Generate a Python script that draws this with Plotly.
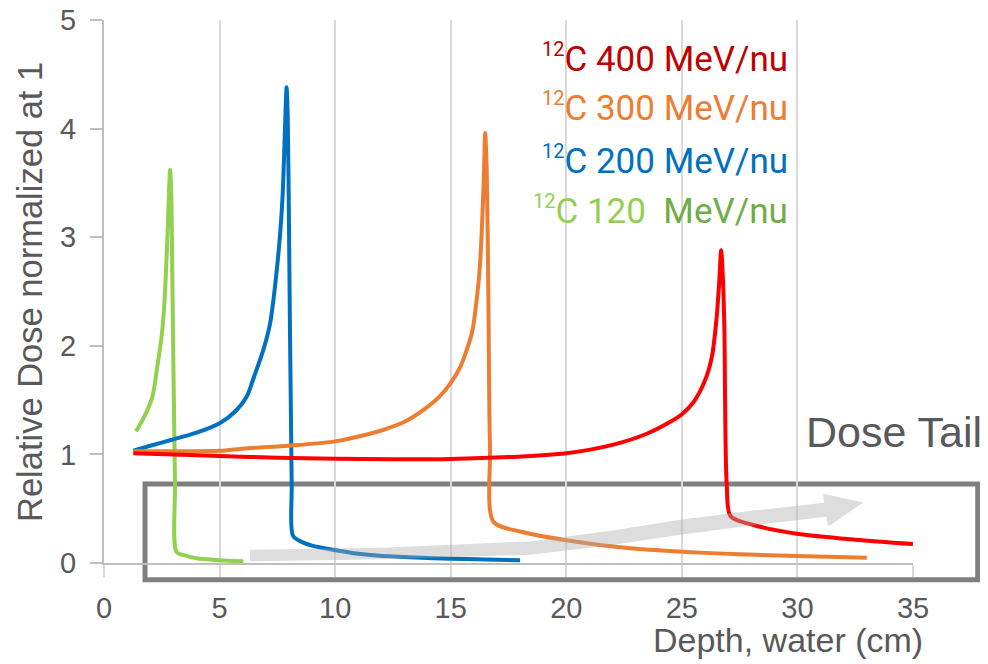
import plotly.graph_objects as go

# ---------------- data ----------------
x_120 = [1.38, 1.75, 2.09, 2.30, 2.49, 2.60, 2.66, 2.75, 2.81, 2.86, 2.91, 2.96, 3.07, 3.14, 3.5, 4.0, 5.0, 6.03]
y_120 = [1.21, 1.35, 1.53, 1.80, 2.08, 2.35, 2.58, 3.04, 3.40, 3.62, 3.40, 2.58, 0.74, 0.10, 0.07, 0.043, 0.025, 0.015]

x_200 = [1.27, 2.0, 2.86, 4.0, 5.02, 5.7, 6.17, 6.5, 6.89, 7.18, 7.40, 7.60, 7.72, 7.80, 7.86, 7.90, 7.95, 7.99, 8.12, 8.18,
         8.6, 9.0, 9.97, 11.0, 11.94, 13.5, 14.97, 16.5, 18.0]
y_200 = [1.035, 1.08, 1.13, 1.20, 1.29, 1.40, 1.53, 1.72, 1.96, 2.20, 2.55, 2.98, 3.35, 3.80, 4.20, 4.38, 4.10, 3.40, 0.73, 0.25,
         0.19, 0.16, 0.12, 0.085, 0.066, 0.05, 0.04, 0.032, 0.025]

x_300 = [1.27, 3.0, 5.0, 6.32, 8.0, 10.0, 11.5, 12.0, 13.0, 13.82, 14.5, 14.97, 15.4, 15.69, 15.95, 16.12, 16.25, 16.34,
         16.44, 16.49, 16.56, 16.63, 16.70, 16.85, 18.0, 19.99, 22.76, 24.99, 27.5, 29.97, 33.0]
y_300 = [1.03, 1.03, 1.033, 1.058, 1.08, 1.12, 1.19, 1.22, 1.30, 1.41, 1.53, 1.65, 1.80, 1.96, 2.15, 2.42, 2.70, 3.04,
         3.60, 3.96, 3.60, 2.42, 1.07, 0.38, 0.29, 0.21, 0.135, 0.104, 0.08, 0.064, 0.049]

x_400 = [1.27, 3.0, 5.0, 7.5, 10.0, 12.5, 15.0, 17.5, 20.0, 22.04, 23.48, 24.5, 25.0, 25.5, 26.0, 26.3, 26.5, 26.62, 26.70,
         26.78, 26.84, 26.94, 27.11, 28.1, 29.97, 32.5, 35.0]
y_400 = [1.01, 1.0, 0.985, 0.97, 0.96, 0.955, 0.958, 0.975, 1.01, 1.09, 1.19, 1.30, 1.37, 1.48, 1.68, 1.90, 2.25, 2.60, 2.88,
         2.60, 2.15, 0.73, 0.43, 0.35, 0.27, 0.215, 0.175]

x_ticks = [0, 5, 10, 15, 20, 25, 30, 35]
y_ticks = [0, 1, 2, 3, 4, 5]

SUP = "<sup><span style='font-size:20px'>12</span></sup>"
labels = [SUP + "C 400 MeV/nu", SUP + "C 300 MeV/nu", SUP + "C 200 MeV/nu",
          SUP + "C 120 &nbsp;<span style='color:#70ad47'>MeV/nu</span>"]

# ---------------- styles ----------------
C_RED, C_ORANGE, C_BLUE, C_GREEN = "#ff0000", "#ed7d31", "#0070c0", "#92d050"
LABEL_COLORS = ["#c00000", "#ed7d31", "#0070c0", "#92d050"]
AX_FONT = "Liberation Sans, Arial, sans-serif"
LEG_FONT = "Roboto, Liberation Sans, sans-serif"
GREY_TXT = "#595959"

fig = go.Figure()
for xs, ys, col in [(x_120, y_120, C_GREEN), (x_200, y_200, C_BLUE), (x_300, y_300, C_ORANGE), (x_400, y_400, C_RED)]:
    fig.add_trace(go.Scatter(x=xs, y=ys, mode="lines", line=dict(color=col, width=4, shape="spline", smoothing=0.8),
                             showlegend=False, hoverinfo="skip"))

# curved "dose tail" arrow (decoration)
top = [(6.32, 0.122), (12.0, 0.140), (18.43, 0.199), (22.0, 0.300), (24.92, 0.398), (28.0, 0.480), (31.15, 0.555)]
head = [(31.12, 0.638), (32.85, 0.558), (31.34, 0.337)]
bot = [(31.24, 0.426), (28.0, 0.345), (24.92, 0.260), (22.0, 0.165), (18.43, 0.076), (12.0, 0.035), (6.32, 0.015)]
pts = top + head + bot
path = "M " + " L ".join(f"{px},{py}" for px, py in pts) + " Z"
fig.add_shape(type="path", path=path, xref="x", yref="y", fillcolor="rgba(170,170,170,0.40)",
              line=dict(width=0), layer="above")

# grey frame around the tail region
fig.add_shape(type="rect", xref="paper", yref="paper", x0=0.0507, x1=1.080, y0=-0.031, y1=0.1455,
              line=dict(color="#7f7f7f", width=5), fillcolor="rgba(0,0,0,0)", layer="below")

fig.add_annotation(text="Dose Tail", xref="paper", yref="paper", x=1.088, y=0.241, xanchor="right", yanchor="middle",
                   showarrow=False, font=dict(family=AX_FONT, size=43, color=GREY_TXT))

for i, (lab, col) in enumerate(zip(labels, LABEL_COLORS)):
    fig.add_annotation(text=lab, xref="paper", yref="paper", x=0.848, y=[0.930, 0.838, 0.742, 0.650][i],
                       xanchor="right", yanchor="middle", showarrow=False,
                       font=dict(family=LEG_FONT, size=35, color=col))

fig.add_annotation(text="Depth, water (cm)", xref="paper", yref="paper", x=1.0148, y=-0.142, xanchor="right",
                   yanchor="middle", showarrow=False, font=dict(family=AX_FONT, size=34, color=GREY_TXT))
fig.add_annotation(text="Relative Dose normalized at 1", xref="paper", yref="paper", x=-0.0915, y=0.499,
                   xanchor="center", yanchor="middle", textangle=-90, showarrow=False,
                   font=dict(family=AX_FONT, size=34.5, color=GREY_TXT))

# the page body adds an 8px offset, so the figure is 8px smaller and margins shifted
fig.update_layout(
    width=980, height=656, margin=dict(l=96, r=75, t=12, b=101),
    paper_bgcolor="white", plot_bgcolor="white",
    xaxis=dict(range=[0, 35], tickvals=x_ticks, ticktext=[str(v) for v in x_ticks], automargin=False,
               showgrid=True, gridcolor="#d9d9d9", gridwidth=1.5, zeroline=False,
               showline=True, linecolor="#bfbfbf", linewidth=2,
               ticks="outside", ticklen=12, tickcolor="#d9d9d9", tickwidth=1.5, ticklabeloverflow="allow",
               tickfont=dict(family=AX_FONT, size=29, color=GREY_TXT), ticklabelstandoff=6),
    yaxis=dict(range=[0, 5], tickvals=y_ticks, showgrid=False, zeroline=False, automargin=False,
               showline=True, linecolor="#bfbfbf", linewidth=2,
               ticks="outside", ticklen=12, tickcolor="#bfbfbf", tickwidth=1.5, ticklabeloverflow="allow",
               tickfont=dict(family=AX_FONT, size=29, color=GREY_TXT), ticklabelstandoff=8),
)

fig.write_html("out.html")
